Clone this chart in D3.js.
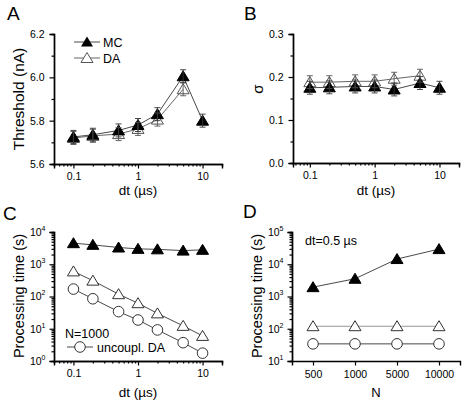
<!DOCTYPE html>
<html><head><meta charset="utf-8">
<script src="https://cdn.jsdelivr.net/npm/d3@7"></script>
<style>body{margin:0;background:#fff} svg{display:block;font-family:"Liberation Sans",Arial,sans-serif}</style>
</head><body><svg id="c" width="465" height="404"></svg>
<script>
// ---------- data ----------
const dtValues = [0.1, 0.2, 0.5, 1, 2, 5, 10];
const dtDA = [0.1, 0.2, 0.5, 1, 2, 5];
const thresholdMC = [5.725, 5.735, 5.755, 5.78, 5.83, 6.005, 5.80];
const thresholdDA = [5.72, 5.73, 5.738, 5.762, 5.805, 5.945];
const thresholdErr = 0.03;
const sigmaMC = [0.175, 0.176, 0.178, 0.178, 0.171, 0.186, 0.175];
const sigmaDA = [0.188, 0.188, 0.190, 0.190, 0.196, 0.203];
const sigmaErr = 0.015;
const timeMC = [4500, 4000, 3300, 3000, 2900, 2650, 2800];
const timeDA = [600, 310, 118, 62, 30, 12.3, 6.0];
const timeUncDA = [170, 85, 34, 18.7, 9.2, 3.7, 1.75];
const nLabels = ["500", "1000", "5000", "10000"];
const nMC = [1950, 3550, 14500, 29500];
const nDA = [120, 120, 120, 120];
const nUncDA = [34, 34, 34, 34];
const dtTicks = [0.1, 1, 10];
const thresholdTicks = [5.6, 5.8, 6.0, 6.2];
const sigmaTicks = [0.0, 0.1, 0.2, 0.3];
const timeTicksC = [1, 10, 100, 1000, 10000];
const timeTicksD = [10, 100, 1000, 10000, 100000];

const svg = d3.select("#c");
const FONT_TICK = 10.5;

function minorLog(lo, hi) {
  const out = [];
  for (let e = Math.floor(Math.log10(lo)); e <= Math.ceil(Math.log10(hi)); e++) {
    for (let m = 2; m <= 9; m++) {
      const v = m * Math.pow(10, e);
      if (v >= lo * 0.999 && v <= hi * 1.001) out.push(v);
    }
  }
  return out;
}

function styleAxis(g) {
  g.select(".domain").attr("stroke", "#000").attr("stroke-width", 1.4);
  g.selectAll(".tick line").attr("stroke", "#000").attr("stroke-width", 1.2);
  g.selectAll(".tick text").attr("font-size", FONT_TICK).attr("fill", "#000")
    .attr("font-family", '"Liberation Sans",Arial,sans-serif');
}

function supFormat(sel) {
  sel.selectAll(".tick text").each(function(d) {
    const t = d3.select(this);
    const e = Math.round(Math.log10(d));
    t.text("");
    t.append("tspan").text("10");
    t.append("tspan").attr("font-size", 7).attr("dy", -5).text(e);
  });
}

function drawLogX(x, yPos, domain) {
  const gMinor = svg.append("g").attr("transform", `translate(0,${yPos})`)
    .call(d3.axisBottom(x).tickValues(minorLog(domain[0], domain[1]).filter(v => !dtTicks.includes(v))).tickSize(2.5).tickFormat(""));
  styleAxis(gMinor);
  const g = svg.append("g").attr("transform", `translate(0,${yPos})`)
    .call(d3.axisBottom(x).tickValues(dtTicks).tickSize(4.5).tickPadding(4).tickFormat(d => String(d)));
  styleAxis(g);
  g.selectAll(".tick text").attr("dy", "0.71em");
}

function triPath(s) {
  return `M0,${-5.5*s}L${6*s},${4.5*s}L${-6*s},${4.5*s}Z`;
}

function drawLine(x, y, xs, ys, color, width) {
  const data = xs.map((v, i) => [v, ys[i]]);
  svg.append("path").datum(data)
    .attr("fill", "none").attr("stroke", color).attr("stroke-width", width)
    .attr("d", d3.line().x(d => x(d[0])).y(d => y(d[1])));
}

function drawTriangles(x, y, xs, ys, filled, stroke, fill) {
  svg.append("g").selectAll("path").data(xs.map((v, i) => [v, ys[i]])).join("path")
    .attr("transform", d => `translate(${x(d[0])},${y(d[1])})`)
    .attr("d", triPath(1))
    .attr("fill", filled ? "#000" : fill)
    .attr("stroke", filled ? "#000" : stroke)
    .attr("stroke-width", 1);
}

function drawCircles(x, y, xs, ys) {
  svg.append("g").selectAll("circle").data(xs.map((v, i) => [v, ys[i]])).join("circle")
    .attr("cx", d => x(d[0])).attr("cy", d => y(d[1])).attr("r", 5.3)
    .attr("fill", "#fff").attr("stroke", "#333").attr("stroke-width", 1);
}

function drawErr(x, y, xs, ys, err, color) {
  const g = svg.append("g").attr("stroke", color).attr("stroke-width", 0.9);
  xs.forEach((v, i) => {
    const cx = x(v), y1 = y(ys[i] - err), y2 = y(ys[i] + err);
    g.append("line").attr("x1", cx).attr("x2", cx).attr("y1", y1).attr("y2", y2);
    g.append("line").attr("x1", cx - 3).attr("x2", cx + 3).attr("y1", y1).attr("y2", y1);
    g.append("line").attr("x1", cx - 3).attr("x2", cx + 3).attr("y1", y2).attr("y2", y2);
  });
}

function text(x, y, s, size, opts = {}) {
  const t = svg.append("text").attr("x", x).attr("y", y).attr("font-size", size)
    .attr("fill", "#000").text(s);
  if (opts.anchor) t.attr("text-anchor", opts.anchor);
  if (opts.rotate) t.attr("transform", `rotate(-90,${x},${y})`);
  return t;
}

// ---------- Panel A ----------
{
  const x = d3.scaleLog().domain([0.05, 20]).range([54, 222]);
  const y = d3.scaleLinear().domain([5.6, 6.2]).range([164, 34]);
  drawLogX(x, 164, [0.05, 20]);
  const gm = svg.append("g").attr("transform", "translate(54,0)")
    .call(d3.axisLeft(y).tickValues([5.7, 5.9, 6.1]).tickSize(2.5).tickFormat(""));
  styleAxis(gm);
  const g = svg.append("g").attr("transform", "translate(54,0)")
    .call(d3.axisLeft(y).tickValues(thresholdTicks).tickSize(4.5).tickPadding(5).tickFormat(d3.format(".1f")));
  styleAxis(g);
  drawLine(x, y, dtValues, thresholdMC, "#333", 0.9);
  drawLine(x, y, dtDA, thresholdDA, "#555", 0.9);
  drawTriangles(x, y, dtDA, thresholdDA, false, "#555", "none");
  drawTriangles(x, y, dtValues, thresholdMC, true);
  drawErr(x, y, dtDA, thresholdDA, thresholdErr, "#555");
  drawErr(x, y, dtValues, thresholdMC, thresholdErr, "#333");
  text(7, 20, "A", 19);
  text(24, 99, "Threshold (nA)", 15.5, {anchor: "middle", rotate: true});
  text(138, 195, "dt (\u00b5s)", 13.5, {anchor: "middle"});
  // legend
  svg.append("line").attr("x1", 74).attr("x2", 100).attr("y1", 42).attr("y2", 42).attr("stroke", "#333").attr("stroke-width", 0.9);
  svg.append("path").attr("transform", "translate(87,42)").attr("d", triPath(1)).attr("fill", "#000");
  text(103, 46.5, "MC", 12.5);
  svg.append("line").attr("x1", 74).attr("x2", 100).attr("y1", 58).attr("y2", 58).attr("stroke", "#555").attr("stroke-width", 0.9);
  svg.append("path").attr("transform", "translate(87,58)").attr("d", triPath(1)).attr("fill", "#fff").attr("stroke", "#555");
  text(103, 62.5, "DA", 12.5);
}

// ---------- Panel B ----------
{
  const x = d3.scaleLog().domain([0.055, 20]).range([293, 459]);
  const y = d3.scaleLinear().domain([0, 0.3]).range([163, 34]);
  drawLogX(x, 163, [0.055, 20]);
  const gm = svg.append("g").attr("transform", "translate(293,0)")
    .call(d3.axisLeft(y).tickValues([0.05, 0.15, 0.25]).tickSize(2.5).tickFormat(""));
  styleAxis(gm);
  const g = svg.append("g").attr("transform", "translate(293,0)")
    .call(d3.axisLeft(y).tickValues(sigmaTicks).tickSize(4.5).tickPadding(5).tickFormat(d3.format(".1f")));
  styleAxis(g);
  drawLine(x, y, dtValues, sigmaMC, "#333", 0.9);
  drawLine(x, y, dtDA, sigmaDA, "#555", 0.9);
  drawTriangles(x, y, dtDA, sigmaDA, false, "#555", "none");
  drawTriangles(x, y, dtValues, sigmaMC, true);
  drawErr(x, y, dtDA, sigmaDA, sigmaErr, "#555");
  drawErr(x, y, dtValues, sigmaMC, sigmaErr, "#333");
  text(244, 20, "B", 19);
  text(263, 89, "\u03c3", 15, {anchor: "middle", rotate: true});
  text(376, 195, "dt (\u00b5s)", 13.5, {anchor: "middle"});
}

// ---------- Panel C ----------
{
  const x = d3.scaleLog().domain([0.05, 20]).range([54, 222]);
  const y = d3.scaleLog().domain([1, 10000]).range([361, 232]);
  drawLogX(x, 361, [0.05, 20]);
  const gm = svg.append("g").attr("transform", "translate(54,0)")
    .call(d3.axisLeft(y).tickValues(minorLog(1, 10000)).tickSize(2.5).tickFormat(""));
  styleAxis(gm);
  const g = svg.append("g").attr("transform", "translate(54,0)")
    .call(d3.axisLeft(y).tickValues(timeTicksC).tickSize(4.5).tickPadding(4));
  styleAxis(g);
  supFormat(g);
  drawLine(x, y, dtValues, timeMC, "#333", 0.9);
  drawLine(x, y, dtValues, timeDA, "#333", 0.9);
  drawLine(x, y, dtValues, timeUncDA, "#333", 0.9);
  drawTriangles(x, y, dtValues, timeMC, true);
  drawTriangles(x, y, dtValues, timeDA, false, "#333", "#fff");
  drawCircles(x, y, dtValues, timeUncDA);
  text(3, 220, "C", 19);
  text(24, 296, "Processing time (s)", 14.5, {anchor: "middle", rotate: true});
  text(138, 397, "dt (\u00b5s)", 13.5, {anchor: "middle"});
  text(65, 338, "N=1000", 12.5);
  svg.append("line").attr("x1", 67).attr("x2", 93).attr("y1", 347).attr("y2", 347).attr("stroke", "#333").attr("stroke-width", 0.9);
  svg.append("circle").attr("cx", 80).attr("cy", 347).attr("r", 5.3).attr("fill", "#fff").attr("stroke", "#333");
  text(97, 351.5, "uncoupl. DA", 12.5);
}

// ---------- Panel D ----------
{
  const x = d3.scalePoint().domain(nLabels).range([292, 460]).padding(0.5);
  const y = d3.scaleLog().domain([10, 100000]).range([361, 232]);
  const gx = svg.append("g").attr("transform", "translate(0,361)")
    .call(d3.axisBottom(x).tickSize(4.5).tickPadding(5));
  styleAxis(gx);
  gx.selectAll(".tick text").attr("dy", "0.71em");
  const gm = svg.append("g").attr("transform", "translate(292,0)")
    .call(d3.axisLeft(y).tickValues(minorLog(10, 100000)).tickSize(2.5).tickFormat(""));
  styleAxis(gm);
  const g = svg.append("g").attr("transform", "translate(292,0)")
    .call(d3.axisLeft(y).tickValues(timeTicksD).tickSize(4.5).tickPadding(4));
  styleAxis(g);
  supFormat(g);
  drawLine(x, y, nLabels, nMC, "#333", 0.9);
  drawLine(x, y, nLabels, nDA, "#999", 1.1);
  drawLine(x, y, nLabels, nUncDA, "#333", 0.9);
  drawTriangles(x, y, nLabels, nMC, true);
  drawTriangles(x, y, nLabels, nDA, false, "#333", "#fff");
  drawCircles(x, y, nLabels, nUncDA);
  text(243, 218, "D", 19);
  text(262, 296, "Processing time (s)", 14.5, {anchor: "middle", rotate: true});
  text(376, 397, "N", 13, {anchor: "middle"});
  text(305, 245, "dt=0.5 \u00b5s", 12.5);
}
</script></body></html>
